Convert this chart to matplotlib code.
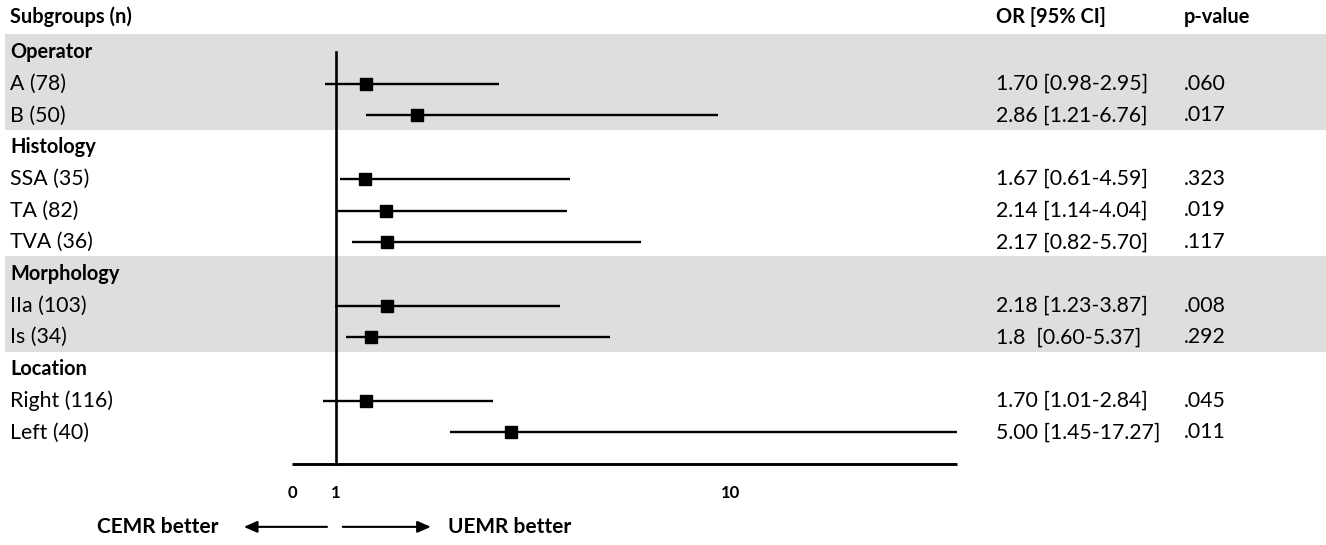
import matplotlib
matplotlib.use("Agg")
import matplotlib.pyplot as plt
import matplotlib.transforms as mtransforms

plt.rcParams['font.family'] = ['Lato', 'DejaVu Sans']

# ---- data ----
groups = ["Operator", "Histology", "Morphology", "Location"]
labels = ["A (78)", "B (50)", "SSA (35)", "TA (82)", "TVA (36)",
          "IIa (103)", "Is (34)", "Right (116)", "Left (40)"]
label_group = [0, 0, 1, 1, 1, 2, 2, 3, 3]
odds_ratio = [1.70, 2.86, 1.67, 2.14, 2.17, 2.18, 1.80, 1.70, 5.00]
# CI whiskers as drawn in the figure
ci_low_drawn = [0.75, 1.69, 1.10, 1.03, 1.38, 0.98, 1.23, 0.71, 3.61]
ci_high_drawn = [4.72, 9.73, 6.34, 6.27, 7.97, 6.13, 7.27, 4.59, 15.18]
or_ci_text = ["1.70 [0.98-2.95]", "2.86 [1.21-6.76]", "1.67 [0.61-4.59]",
              "2.14 [1.14-4.04]", "2.17 [0.82-5.70]", "2.18 [1.23-3.87]",
              "1.8  [0.60-5.37]", "1.70 [1.01-2.84]", "5.00 [1.45-17.27]"]
p_values = [".060", ".017", ".323", ".019", ".117", ".008", ".292", ".045", ".011"]
shaded_groups = ["Operator", "Morphology"]
tick_values = [0, 1, 10]
tick_labels = ["0", "1", "10"]
axis_max = 15.18

# ---- layout ----
W, H = 1326, 545
fig = plt.figure(figsize=(W / 100, H / 100), dpi=100)
ax = fig.add_axes([0, 0, 1, 1])
px_per_unit = 43.8
x0_px = 292
ax.set_xlim(-x0_px / px_per_unit, (W - x0_px) / px_per_unit)
row_h = 31.7
top_row_px = 52
ax.set_ylim((H - top_row_px) / row_h, -top_row_px / row_h)
ax.axis("off")

trans = mtransforms.blended_transform_factory(ax.transAxes, ax.transData)

row = 0
group_rows = {}
item_rows = []
for gi, g in enumerate(groups):
    group_rows[g] = row
    row += 1
    for li, lg in enumerate(label_group):
        if lg == gi:
            item_rows.append(row)
            row += 1
last_row = row - 1
axis_row = last_row + 1.0

# shaded bands
for gi, g in enumerate(groups):
    if g in shaded_groups:
        r0 = group_rows[g]
        members = [item_rows[i] for i, lg in enumerate(label_group) if lg == gi]
        r1 = max(members)
        ax.fill_between([0.004, 1.0], r0 - 0.57, r1 + 0.45, color="#dedede",
                        transform=trans, zorder=0, linewidth=0)

fs = 15.3
fsb = 14.4
left_x = 0.0075
or_x = 996 / W
p_x = 1184 / W

ax.text(left_x, -1.1, "Subgroups (n)", transform=trans, fontsize=fsb,
        fontweight="bold", va="center", ha="left")
ax.text(or_x, -1.1, "OR [95% CI]", transform=trans, fontsize=fsb,
        fontweight="bold", va="center", ha="left")
ax.text(p_x, -1.1, "p-value", transform=trans, fontsize=fsb,
        fontweight="bold", va="center", ha="left")

for g, r in group_rows.items():
    ax.text(left_x, r, g, transform=trans, fontsize=fsb, fontweight="bold",
            va="center", ha="left")

for i, r in enumerate(item_rows):
    ax.text(left_x, r, labels[i], transform=trans, fontsize=fs,
            va="center", ha="left")
    ax.text(or_x, r, or_ci_text[i], transform=trans, fontsize=fs,
            va="center", ha="left")
    ax.text(p_x, r, p_values[i], transform=trans, fontsize=fs,
            va="center", ha="left")
    ax.plot([ci_low_drawn[i], ci_high_drawn[i]], [r, r], color="black",
            lw=1.7, solid_capstyle="butt", zorder=2)
    ax.plot(odds_ratio[i], r, marker="s", color="black", markersize=8,
            zorder=3, linestyle="none")

# reference line at 1 and x axis line
ax.plot([1, 1], [0, axis_row], color="black", lw=1.9, zorder=2)
ax.plot([0, axis_max], [axis_row, axis_row], color="black", lw=2.1, zorder=2,
        solid_capstyle="butt")

for v, t in zip(tick_values, tick_labels):
    ax.text(v, axis_row + 0.9, t, fontsize=12, fontweight="bold",
            ha="center", va="center")

arrow_row = axis_row + 1.98
arrow_style = "-|>,head_length=0.8,head_width=0.35"
ax.annotate("", xy=(-1.10, arrow_row), xytext=(0.80, arrow_row),
            arrowprops=dict(arrowstyle=arrow_style, color="black", lw=1.5,
                            shrinkA=0, shrinkB=0))
ax.annotate("", xy=(3.17, arrow_row), xytext=(1.16, arrow_row),
            arrowprops=dict(arrowstyle=arrow_style, color="black", lw=1.5,
                            shrinkA=0, shrinkB=0))
ax.text(-1.67, arrow_row, "CEMR better", fontsize=fsb + 0.6, fontweight="bold",
        ha="right", va="center")
ax.text(3.56, arrow_row, "UEMR better", fontsize=fsb + 0.6, fontweight="bold",
        ha="left", va="center")

fig.savefig("out.png", dpi=100)
